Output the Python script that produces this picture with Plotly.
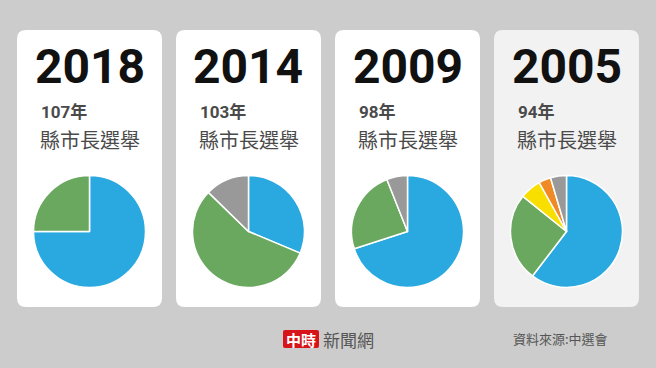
import plotly.graph_objects as go

# ---------------- data ----------------
years = ["2018", "2014", "2009", "2005"]
roc_years = ["107年", "103年", "98年", "94年"]
election = "縣市長選舉"
values_2018 = [75, 25]
values_2014 = [31.3, 56, 12.7]
values_2009 = [70, 24, 6]
values_2005 = [60.4, 25.4, 6.1, 3.5, 4.6]
colors_2018 = ["#29a9e0", "#6aa85f"]
colors_2014 = ["#29a9e0", "#6aa85f", "#999999"]
colors_2009 = ["#29a9e0", "#6aa85f", "#999999"]
colors_2005 = ["#29a9e0", "#6aa85f", "#f9df00", "#f08a24", "#999999"]
all_values = [values_2018, values_2014, values_2009, values_2005]
all_colors = [colors_2018, colors_2014, colors_2009, colors_2005]
source_text = "資料來源:中選會"
logo_text = "中時"
brand_text = "新聞網"

# ---------------- layout helpers ----------------
W, H = 656, 368
card_left = [17, 176, 335, 494]
card_w = 145
card_top, card_bot = 30, 307
card_fill = ["#ffffff", "#ffffff", "#ffffff", "#f2f2f2"]
pie_cy = 231.5
pie_r = 56


def px(x):
    return x / W


def py(y):
    return 1 - y / H


def rounded_rect(x0, y0, x1, y1, r):
    X0, X1 = px(x0), px(x1)
    Y0, Y1 = py(y0), py(y1)
    rx, ry = r / W, r / H
    return (f"M {X0+rx},{Y0} L {X1-rx},{Y0} Q {X1},{Y0} {X1},{Y0-ry} "
            f"L {X1},{Y1+ry} Q {X1},{Y1} {X1-rx},{Y1} L {X0+rx},{Y1} "
            f"Q {X0},{Y1} {X0},{Y1+ry} L {X0},{Y0-ry} Q {X0},{Y0} {X0+rx},{Y0} Z")


fig = go.Figure()
shapes = []
annotations = []

for i in range(4):
    x0 = card_left[i]
    x1 = x0 + card_w
    cx = (x0 + x1) / 2
    shapes.append(dict(type="path", xref="paper", yref="paper",
                       path=rounded_rect(x0, card_top, x1, card_bot, 9),
                       fillcolor=card_fill[i], line=dict(width=0), layer="below"))
    annotations.append(dict(text=f"<b>{years[i]}</b>", x=px(cx), y=py(67),
                            xref="paper", yref="paper", xanchor="center", yanchor="middle",
                            showarrow=False,
                            font=dict(size=48, color="#111111", family="Roboto")))
    annotations.append(dict(text=f"<b>{roc_years[i]}</b>", x=px(x0 + 22), y=py(112),
                            xref="paper", yref="paper", xanchor="left", yanchor="middle",
                            showarrow=False,
                            font=dict(size=17, color="#4a4a4a",
                                      family="Roboto, Noto Sans CJK TC")))
    annotations.append(dict(text=election, x=px(x0 + 21), y=py(139),
                            xref="paper", yref="paper", xanchor="left", yanchor="middle",
                            showarrow=False,
                            font=dict(size=20, color="#4a4a4a", family="Noto Sans CJK TC")))
    fig.add_trace(go.Pie(values=all_values[i], marker=dict(colors=all_colors[i],
                                                           line=dict(color="#ffffff", width=1.5)),
                         sort=False, direction="clockwise", rotation=0,
                         textinfo="none", hoverinfo="none", showlegend=False,
                         domain=dict(x=[px(cx - pie_r), px(cx + pie_r)],
                                     y=[py(pie_cy + pie_r), py(pie_cy - pie_r)])))

# footer logo
shapes.append(dict(type="path", xref="paper", yref="paper",
                   path=rounded_rect(283, 330, 319, 348, 2),
                   fillcolor="#d7141a", line=dict(width=0)))
annotations.append(dict(text=f"<b>{logo_text}</b>", x=px(301), y=py(339.5),
                        xref="paper", yref="paper", xanchor="center", yanchor="middle",
                        showarrow=False,
                        font=dict(size=15, color="#ffffff", family="Noto Sans CJK TC")))
annotations.append(dict(text=brand_text, x=px(321), y=py(339.5),
                        xref="paper", yref="paper", xanchor="left", yanchor="middle",
                        showarrow=False,
                        font=dict(size=17, color="#555555", family="Noto Sans CJK TC")))
annotations.append(dict(text=source_text, x=px(560), y=py(338.5),
                        xref="paper", yref="paper", xanchor="center", yanchor="middle",
                        showarrow=False,
                        font=dict(size=13, color="#555555", family="Noto Sans CJK TC")))

fig.update_layout(width=W, height=H, margin=dict(l=0, r=0, t=0, b=0),
                  paper_bgcolor="#cccccc", plot_bgcolor="#cccccc",
                  shapes=shapes, annotations=annotations)
fig.write_html("out.html")
